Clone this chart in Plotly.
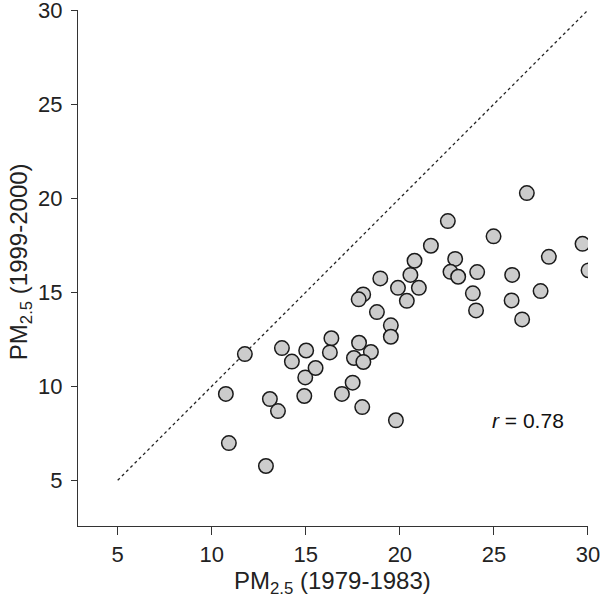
import plotly.graph_objects as go

# PM2.5 1979-1983 (x) vs 1999-2000 (y)
pm_1979_1983 = [11.76, 10.75, 10.91, 12.88, 13.09, 13.52, 13.73, 14.26, 15.02, 14.97,
                14.92, 15.52, 16.36, 16.28, 17.56, 17.83, 18.46, 18.06, 17.49, 16.92,
                18.00, 19.79, 19.52, 19.52, 18.05, 17.81, 18.78, 18.96, 20.56, 20.78,
                19.90, 21.01, 20.37, 21.65, 22.55, 26.75, 24.98, 29.71, 27.92, 22.94,
                22.69, 23.10, 24.11, 25.97, 30.03, 23.88, 24.05, 25.94, 27.48, 26.50]
pm_1999_2000 = [11.71, 9.59, 6.98, 5.76, 9.32, 8.68, 12.03, 11.31, 11.90, 10.47,
                9.48, 10.97, 12.55, 11.80, 11.50, 12.31, 11.82, 11.29, 10.19, 9.59,
                8.89, 8.19, 13.24, 12.63, 14.88, 14.62, 13.94, 15.73, 15.92, 16.67,
                15.23, 15.23, 14.54, 17.47, 18.78, 20.27, 17.97, 17.57, 16.88, 16.77,
                16.08, 15.82, 16.07, 15.92, 16.16, 14.94, 14.03, 14.56, 15.06, 13.55]
identity_line = [5, 30]
tick_vals = [5, 10, 15, 20, 25, 30]
r_label = "<i>r</i> = 0.78"
x_title = "PM<sub>2.5</sub> (1979-1983)"
y_title = "PM<sub>2.5</sub> (1999-2000)"

FONT = "Liberation Sans"
W, H = 601, 598
ML, MR, MT, MB = 78, 12.7, 9.7, 72
PW, PH = W - ML - MR, H - MT - MB

fig = go.Figure()
fig.add_trace(go.Scatter(
    x=identity_line, y=identity_line, mode="lines",
    line=dict(color="#222222", width=1.3, dash="dot"),
    hoverinfo="skip", showlegend=False))
fig.add_trace(go.Scatter(
    x=pm_1979_1983, y=pm_1999_2000, mode="markers",
    marker=dict(size=14.5, color="#cccccc", line=dict(color="#1a1a1a", width=1.5)),
    showlegend=False))

fig.add_annotation(x=24.8, y=8.17, xref="x", yref="y", text=r_label,
                   showarrow=False, xanchor="left", yanchor="middle",
                   font=dict(family=FONT, size=21, color="#111111"))

# axis titles placed at pixel positions (paper coords span the plot area)
def px_to_paper(px, py):
    return (px - ML) / PW, (H - MB - py) / PH

tx, ty = px_to_paper(333, 583)
fig.add_annotation(x=tx, y=ty, xref="paper", yref="paper", yanchor="middle",
                   xanchor="center", text=x_title, showarrow=False,
                   font=dict(family=FONT, size=24, color="#222222"))
tx, ty = px_to_paper(20, 262)
fig.add_annotation(x=tx, y=ty, xref="paper", yref="paper", yanchor="middle",
                   xanchor="center", text=y_title, showarrow=False, textangle=-90,
                   font=dict(family=FONT, size=24, color="#222222"))

axis_common = dict(
    showgrid=False, zeroline=False, showline=True, linecolor="#333333", linewidth=1.2,
    ticks="outside", tickcolor="#333333", tickwidth=1.2, automargin=False,
    ticklabeloverflow="allow",
    tickvals=tick_vals, tickfont=dict(family=FONT, size=22, color="#222222"),
)

fig.update_layout(
    width=W, height=H,
    margin=dict(l=ML, r=MR, t=MT, b=MB),
    paper_bgcolor="white", plot_bgcolor="white",
    xaxis=dict(range=[2.89, 30.001], ticklen=8, ticklabelstandoff=0, **axis_common),
    yaxis=dict(range=[2.57, 30.001], ticklen=6, ticklabelstandoff=4, **axis_common),
)

fig.write_html("out.html", config={"displayModeBar": False},
               post_script="document.body.style.margin='0';document.body.style.overflow='hidden';")
